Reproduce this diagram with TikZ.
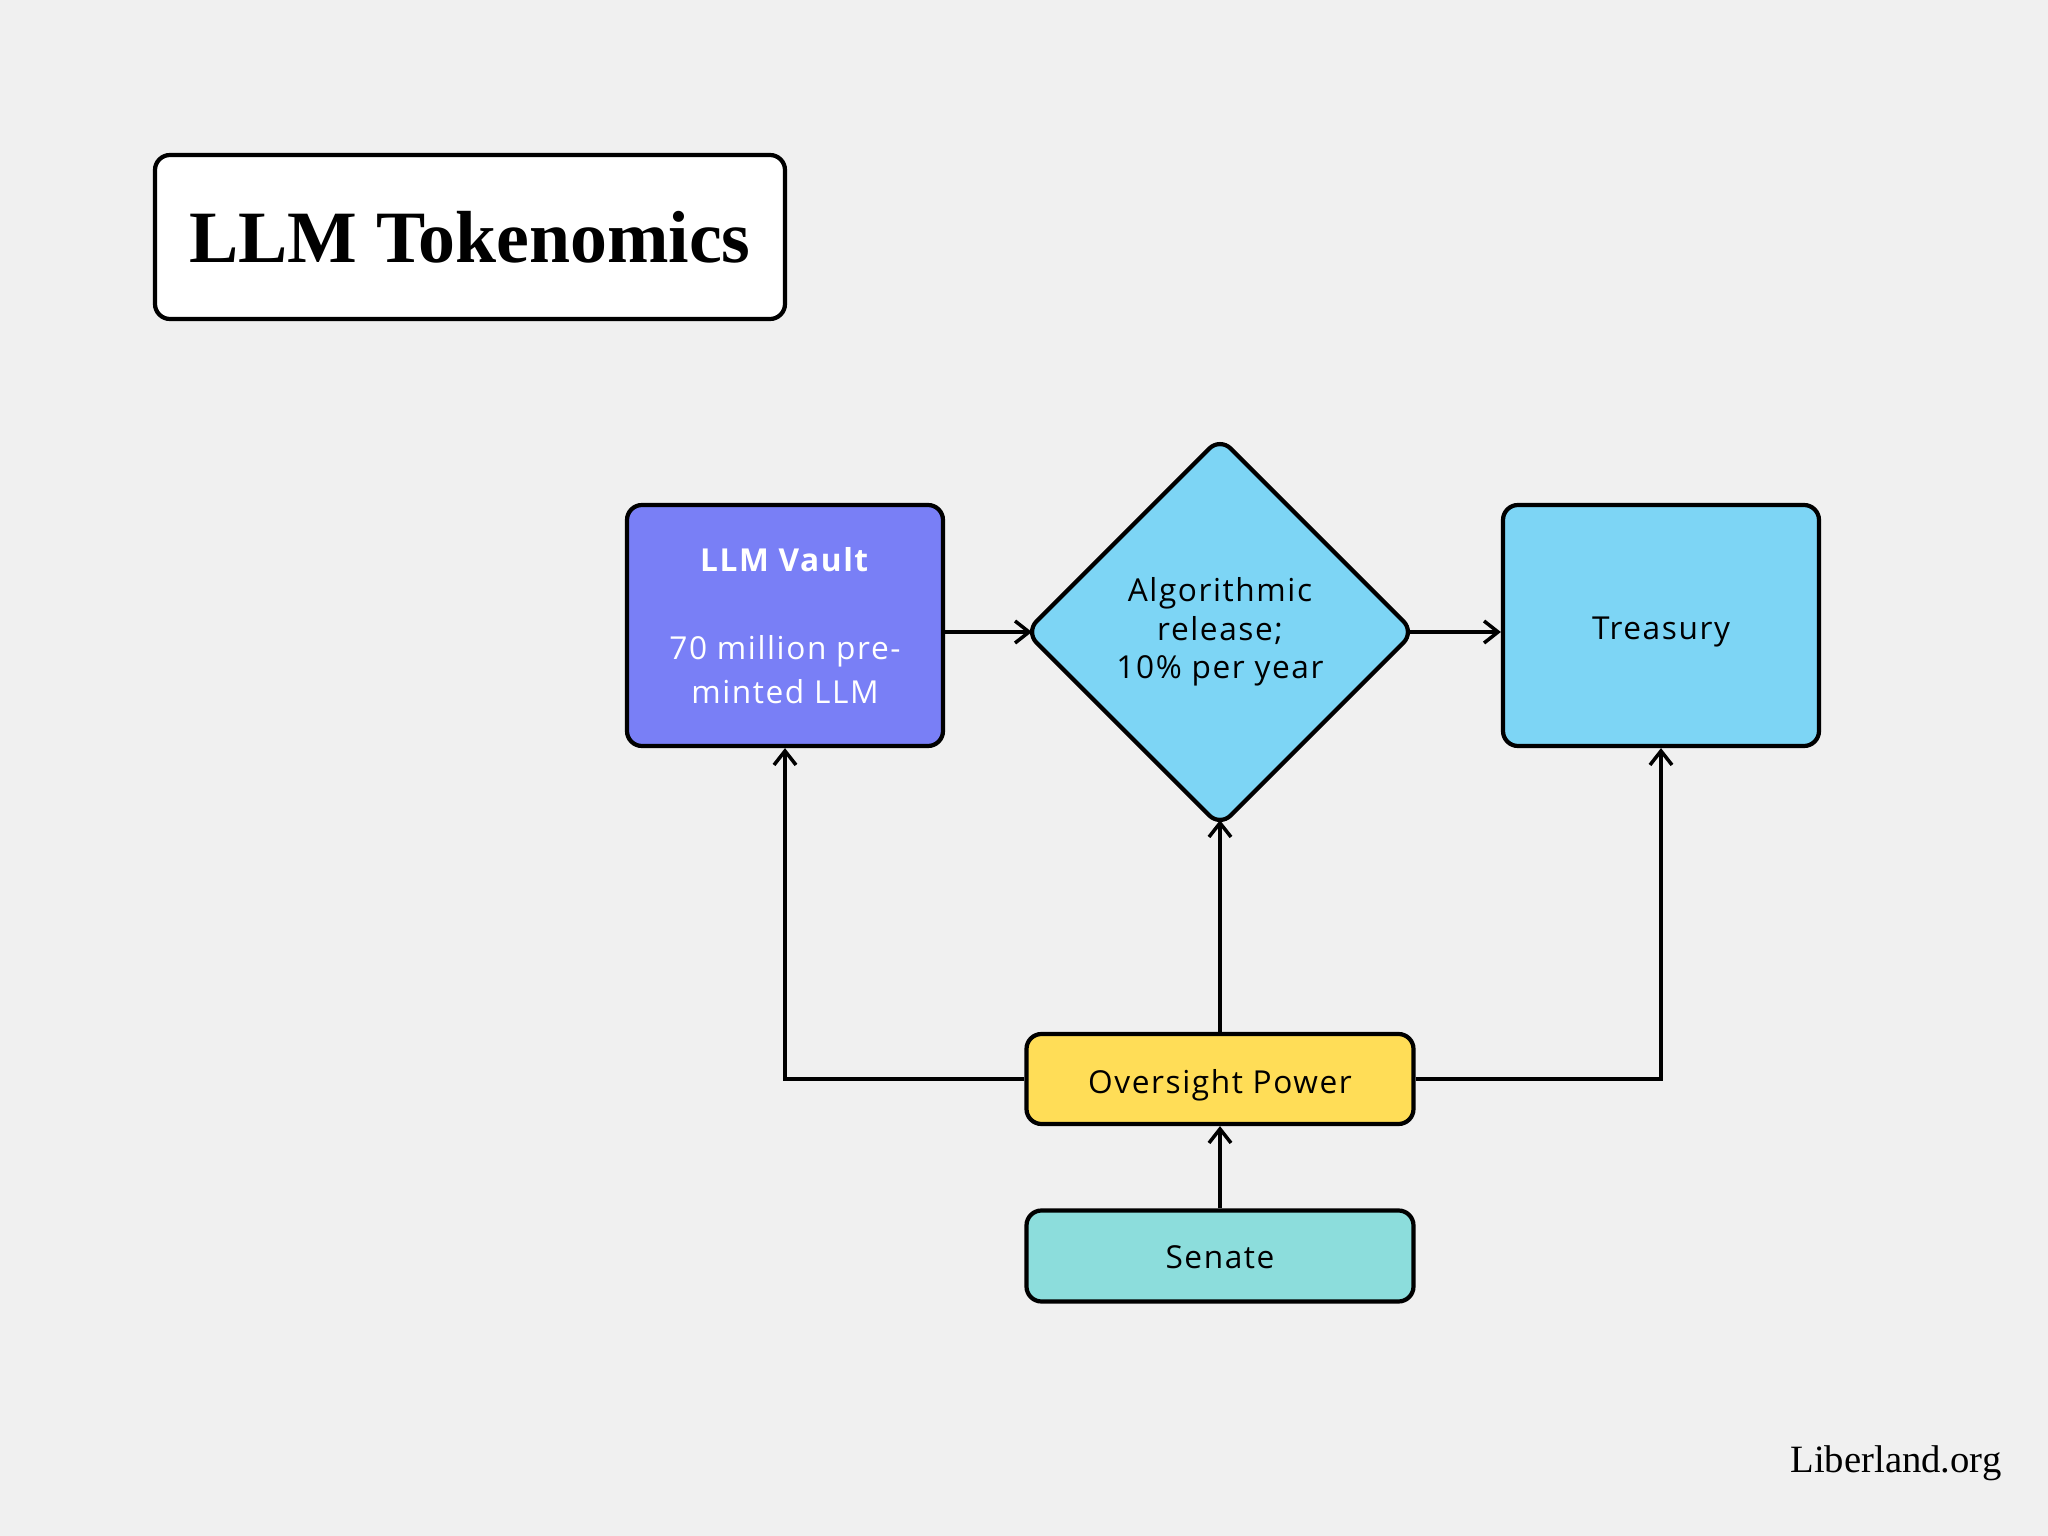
\documentclass[tikz,border=0pt]{standalone}
\usepackage{fontspec}
\usetikzlibrary{shapes.geometric,arrows.meta}
\newfontfamily\boxfont[LetterSpace=5]{Open Sans}
\newfontfamily\titlefont{Liberation Serif}
\definecolor{bgcol}{HTML}{F0F0F0}
\definecolor{vaultcol}{HTML}{797FF6}
\definecolor{skycol}{HTML}{7DD5F5}
\definecolor{goldcol}{HTML}{FFDD57}
\definecolor{tealcol}{HTML}{8CDDDC}
\begin{document}
\begin{tikzpicture}[
  box/.style={draw=black, line width=1.2pt, rounded corners=1.5mm, align=center, inner sep=0pt, font={\boxfont\fontsize{9}{12.5}\selectfont}},
  arr/.style={line width=1pt, -{Straight Barb[length=1.4mm,width=2.2mm]}}]
  \fill[bgcol] (0,0) rectangle (20.48,-15.36);
  % title
  \node[box, fill=white, minimum width=6.30cm, minimum height=1.64cm, font={\titlefont\bfseries\fontsize{21}{24}\selectfont}] (title) at (4.70,-2.37) {LLM Tokenomics};
  % boxes
  \node[box, fill=vaultcol, text=white, minimum width=3.16cm, minimum height=2.41cm] (vault) at (7.85,-6.255) {\textbf{LLM Vault}\\[12.5pt]70 million pre-\\minted LLM};
  \node[box, diamond, aspect=1, fill=skycol, minimum width=3.9cm, minimum height=3.9cm, font={\boxfont\fontsize{9}{11}\selectfont}] (algo) at (12.20,-6.32) {Algorithmic\\release;\\10\% per year};
  \node[box, fill=skycol, minimum width=3.16cm, minimum height=2.41cm] (treasury) at (16.61,-6.255) {\raisebox{-4pt}[0pt][0pt]{Treasury}};
  \node[box, fill=goldcol, minimum width=3.87cm, minimum height=0.90cm] (oversight) at (12.20,-10.79) {\raisebox{-4pt}[0pt][0pt]{Oversight Power}};
  \node[box, fill=tealcol, minimum width=3.87cm, minimum height=0.91cm] (senate) at (12.20,-12.56) {\raisebox{-3.5pt}[0pt][0pt]{Senate}};
  % footer
  \node[anchor=base east, inner sep=0pt, font={\titlefont\fontsize{11}{13}\selectfont}] (site) at (20.02,-14.72) {Liberland.org};
  % arrows
  \draw[arr, shorten >=-0.9mm] (vault.east |- algo.west) -- (algo.west);
  \draw[arr, shorten <=-0.9mm] (algo.east) -- (treasury.west |- algo.east);
  \draw[arr, shorten >=-0.9mm] (oversight) -- (algo);
  \draw[arr] (senate) -- (oversight);
  \draw[arr] (oversight.west) -| (vault.south);
  \draw[arr] (oversight.east) -| (treasury.south);
\end{tikzpicture}
\end{document}
